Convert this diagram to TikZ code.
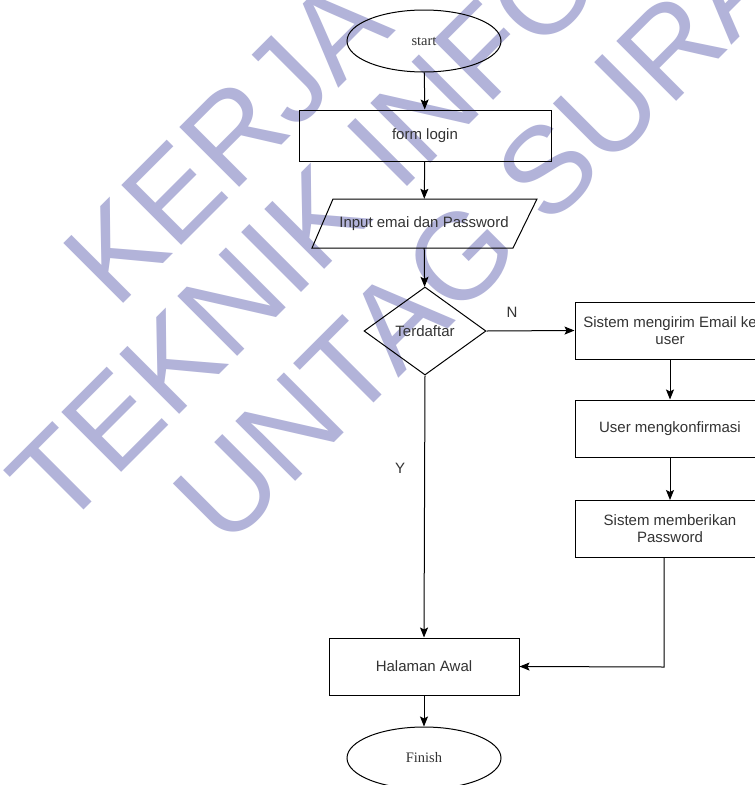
\documentclass[tikz,border=0pt]{standalone}
\usepackage{fontspec}
\setmainfont{Liberation Sans}
\newfontfamily\serifface{Liberation Serif}
\usetikzlibrary{shapes.geometric,arrows.meta}
\definecolor{wmark}{RGB}{178,179,217}
\definecolor{txt}{RGB}{51,51,51}
\begin{document}
\begin{tikzpicture}[x=1pt,y=-1pt,
  every node/.style={inner sep=0pt},
  wm/.style={text=wmark,font=\fontsize{123}{123}\selectfont,anchor=base west,rotate=45},
  box/.style={draw,line width=1pt,rectangle,minimum width=#1,minimum height=57,
    text=txt,font=\fontsize{15}{17}\selectfont,align=center},
  box/.default=190,
  term/.style={draw,line width=1pt,ellipse,minimum width=154,minimum height=62,
    text=txt,font=\serifface\fontsize{14.5}{16}\selectfont},
  dec/.style={draw,line width=1pt,diamond,minimum width=122,minimum height=88,
    text=txt,font=\fontsize{15}{17}\selectfont},
  lbl/.style={text=txt,font=\fontsize{15}{17}\selectfont},
  flow/.style={line width=1pt,-{Stealth[length=10pt,width=8pt,inset=2pt]}}]
\useasboundingbox (0,0) rectangle (755,785);
\clip (0,0) rectangle (755,785);
\fill[white] (0,0) rectangle (755,785);

% watermark
\node[wm] (wm1) at (116,311) {KERJA PRAKTEK};
\node[wm] (wm2) at (61,533) {TEKNIK INFORMATIKA};
\node[wm] (wm3) at (226,551) {UNTAG SURABAYA};

% flowchart nodes
\node[term] (start) at (424,41) {start};
\node[box=252,minimum height=51] (form) at (425,135.5) {form login};
\node[minimum width=200,minimum height=49,text=txt,font=\fontsize{15}{17}\selectfont] (input) at (424,223.5) {Input emai dan Password};
\draw[line width=1pt] (333,199) -- (537,199) -- (513,248) -- (312,248) -- cycle;
\node[dec] (cek) at (425,331) {Terdaftar};
\node[box] (kirim) at (670,330.5) {Sistem mengirim Email ke\\user};
\node[box] (konf) at (670,428.5) {User mengkonfirmasi};
\node[box] (beri) at (670,529) {Sistem memberikan\\Password};
\node[box=190,minimum height=57] (awal) at (424,666.5) {Halaman Awal};
\node[term] (finish) at (424,758) {Finish};

% connectors
\draw[flow] (start) -- (form);
\draw[flow] (form) -- (input);
\draw[flow] (input) -- (cek);
\draw[flow] (cek.east) -- (kirim.west);
\node[lbl] (lblN) at (512,312) {N};
\draw[flow] (kirim) -- (konf);
\draw[flow] (konf) -- (beri);
\coordinate (turn) at (664,667);
\draw[flow] (beri.south -| turn) -- (turn) -- (awal.east);
\draw[flow] (cek.south) -- (awal.north);
\node[lbl] (lblY) at (400,468) {Y};
\draw[flow] (awal) -- (finish);
\end{tikzpicture}
\end{document}
